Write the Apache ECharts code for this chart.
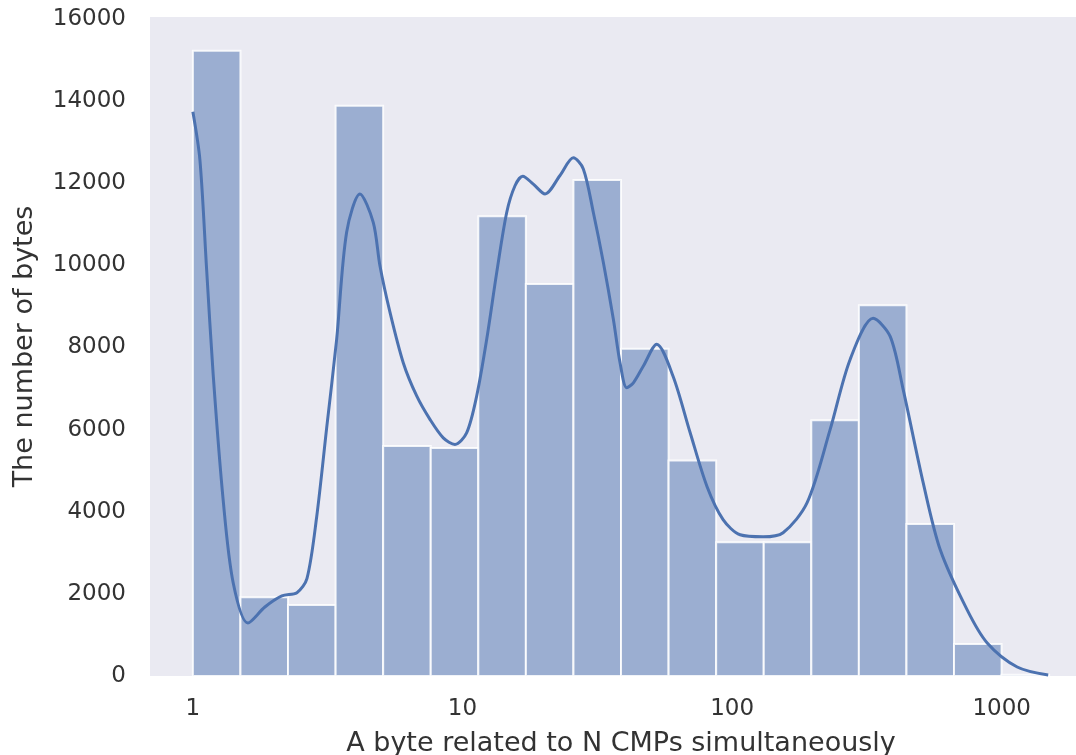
<!DOCTYPE html>
<html>
<head>
<meta charset="utf-8">
<script src="https://cdn.jsdelivr.net/npm/echarts@6/dist/echarts.min.js"></script>
<style>
html,body{margin:0;padding:0;background:#fff;}
#chart{width:1076px;height:755px;}
</style>
</head>
<body>
<div id="chart"></div>
<script>
// ---- Data ----
// histogram: log-spaced bins over the data range [binLow, binHigh]
var binLow = 1;
var binHigh = 1500;
var binCounts = [15230, 1920, 1730, 13890, 5600, 5550, 11200, 9550, 12080, 7970, 5250, 3260, 3260, 6230, 9030, 3700, 780, 30];

// KDE curve (N, count)
var kdeX = [1.0, 1.062, 1.124, 1.19, 1.296, 1.411, 1.6, 1.85, 2.139, 2.432, 2.649, 2.877, 3.134, 3.414, 3.718, 4.166,
  4.667, 4.942, 5.383, 6.03, 6.764, 7.575, 8.487, 9.38, 10.36, 11.29, 12.3, 13.4, 14.59, 15.66, 16.73, 18.31, 20.24,
  23.0, 25.77, 28.07, 30.58, 33.31, 36.28, 38.41, 40.68, 43.04, 46.88, 52.56, 60.41, 69.87, 80.78, 92.61, 107.1,
  130.3, 154.6, 189.8, 231.0, 274.1, 333.6, 385.8, 431.0, 511.4, 591.3, 744.7, 883.6, 1141.6, 1487.6];
var kdeY = [13740, 12570, 9930, 7320, 4270, 2270, 1290, 1680, 1950, 2030, 2370, 3860, 6030, 8200, 10810, 11740,
  11050, 9990, 8860, 7630, 6820, 6250, 5800, 5640, 5920, 6820, 8200, 9830, 11290, 11940, 12170, 11980, 11740,
  12190, 12620, 12350, 11290, 10070, 8690, 7630, 7020, 7140, 7550, 8080, 7300, 5930, 4610, 3810, 3440,
  3390, 3490, 4220, 6000, 7710, 8710, 8270, 6980, 4710, 3080, 1610, 805, 220, 24];

// axis ticks
var xTickValues = [1, 10, 100, 1000];
var yTickValues = [0, 2000, 4000, 6000, 8000, 10000, 12000, 14000, 16000];
var xTitle = 'A byte related to N CMPs simultaneously';
var yTitle = 'The number of bytes';

// ---- Build ----
var lgLo = Math.log10(binLow), lgHi = Math.log10(binHigh);
var nb = binCounts.length;
var barData = binCounts.map(function (c, i) {
  return [lgLo + i * (lgHi - lgLo) / nb, lgLo + (i + 1) * (lgHi - lgLo) / nb, c];
});
var kdeData = kdeX.map(function (x, i) { return [Math.log10(x), kdeY[i]]; });

var textColor = '#333333';
var font = 'DejaVu Sans';

var chart = echarts.init(document.getElementById('chart'), null, {renderer: 'canvas'});
chart.setOption({
  animation: false,
  backgroundColor: '#ffffff',
  grid: {
    left: 150, top: 17, width: 942, height: 659,
    show: true, backgroundColor: '#EAEAF2', borderWidth: 0,
    containLabel: false, outerBoundsMode: 'none'
  },
  xAxis: {
    type: 'value',
    min: -0.159, max: 3.335,
    axisLine: {show: false}, axisTick: {show: false}, splitLine: {show: false},
    axisLabel: {
      customValues: xTickValues.map(function (v) { return Math.log10(v); }),
      formatter: function (v) { return String(Math.round(Math.pow(10, v))); },
      color: textColor, fontFamily: font, fontSize: 23, margin: 22
    },
    name: xTitle, nameLocation: 'middle', nameGap: 54,
    nameTextStyle: {color: textColor, fontFamily: font, fontSize: 27}
  },
  yAxis: {
    type: 'value',
    min: 0, max: 16050,
    axisLine: {show: false}, axisTick: {show: false}, splitLine: {show: false},
    axisLabel: {
      customValues: yTickValues,
      formatter: function (v) { return String(v); },
      color: textColor, fontFamily: font, fontSize: 23, margin: 24
    },
    name: yTitle, nameLocation: 'middle', nameGap: 112, nameRotate: 90,
    nameTextStyle: {color: textColor, fontFamily: font, fontSize: 27}
  },
  series: [
    {
      type: 'custom',
      data: barData,
      encode: {x: [0, 1], y: 2},
      clip: true,
      renderItem: function (params, api) {
        var p0 = api.coord([api.value(0), 0]);
        var p1 = api.coord([api.value(1), api.value(2)]);
        return {
          type: 'rect',
          shape: {x: p0[0], y: p1[1], width: p1[0] - p0[0], height: p0[1] - p1[1]},
          style: {fill: 'rgba(76,114,176,0.5)', stroke: 'rgba(255,255,255,0.85)', lineWidth: 2}
        };
      },
      z: 2
    },
    {
      type: 'line',
      data: kdeData,
      showSymbol: false,
      smooth: 0.3,
      clip: true,
      lineStyle: {color: '#4C72B0', width: 3},
      z: 3
    }
  ]
});
</script>
</body>
</html>
